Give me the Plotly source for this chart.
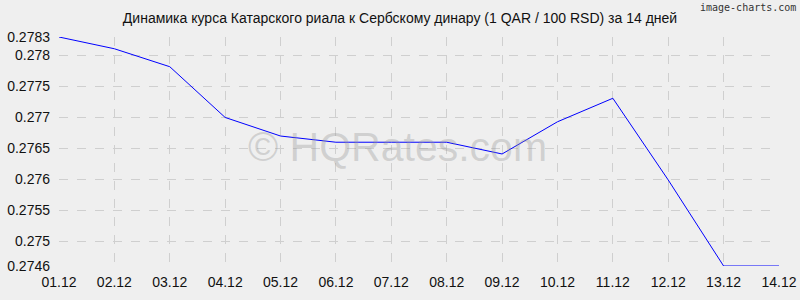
import plotly.graph_objects as go

dates = ["01.12", "02.12", "03.12", "04.12", "05.12", "06.12", "07.12",
         "08.12", "09.12", "10.12", "11.12", "12.12", "13.12", "14.12"]
rates = [0.2783, 0.27811, 0.27782, 0.2770, 0.27670, 0.27660, 0.27660,
         0.27660, 0.27641, 0.27693, 0.27731, 0.27599, 0.2746, 0.2746]
y_ticks = [0.2746, 0.275, 0.2755, 0.276, 0.2765, 0.277, 0.2775, 0.278, 0.2783]
y_tick_labels = ["0.2746", "0.275", "0.2755", "0.276", "0.2765", "0.277", "0.2775", "0.278", "0.2783"]
title = "Динамика курса Катарского риала к Сербскому динару (1 QAR / 100 RSD) за 14 дней"

fig = go.Figure()
fig.add_trace(go.Scatter(x=list(range(len(dates))), y=rates, mode="lines",
                         line=dict(color="#0000ff", width=1), cliponaxis=False,
                         hoverinfo="skip"))

font = "Liberation Sans, Arial, sans-serif"
fig.update_layout(
    width=800, height=300,
    margin=dict(l=59, r=21, t=37, b=34, pad=0, autoexpand=False),
    paper_bgcolor="#efefef", plot_bgcolor="#efefef",
    showlegend=False,
    font=dict(family=font, color="#111111", size=14),
    title=dict(text=title, x=0.5, xanchor="center", y=1 - 18 / 300, yanchor="middle",
               font=dict(family=font, size=14, color="#111111")),
    xaxis=dict(range=[0, len(dates) - 1], tickvals=list(range(len(dates))), ticktext=dates,
               showgrid=True, gridcolor="#cfcfcf", griddash="dash", gridwidth=1,
               zeroline=False, showline=False, ticks="", ticklabelstandoff=6,
               automargin=False, tickfont=dict(size=14, color="#111111")),
    yaxis=dict(range=[0.2746, 0.2783], tickvals=y_ticks, ticktext=y_tick_labels,
               showgrid=True, gridcolor="#cfcfcf", griddash="dash", gridwidth=1,
               zeroline=False, showline=False, ticks="", ticklabelstandoff=8,
               automargin=False, tickfont=dict(size=14, color="#111111")),
)

fig.add_annotation(text="© HQRates.com", xref="paper", yref="paper", x=0.47, y=0.52,
                   showarrow=False, font=dict(family=font, size=41, color="rgba(150,150,150,0.35)"))
fig.add_annotation(text="image-charts.com", xref="paper", yref="paper", x=1 + 19 / 720, y=1 + 37 / 229,
                   xanchor="right", yanchor="top", showarrow=False,
                   font=dict(family="DejaVu Sans Mono, monospace", size=10, color="#333333"))

fig.write_html("out.html")
